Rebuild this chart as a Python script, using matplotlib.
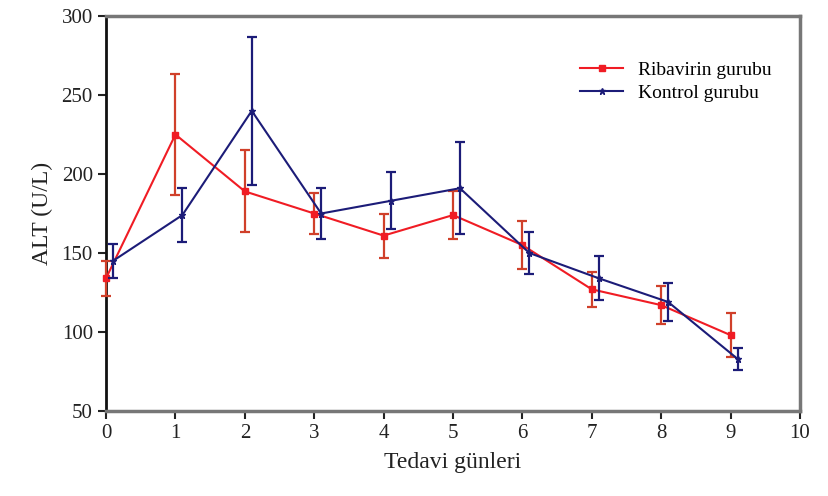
import matplotlib
matplotlib.use("Agg")
import matplotlib.pyplot as plt
from matplotlib.lines import Line2D

days = [0, 1, 2, 3, 4, 5, 6, 7, 8, 9]
ribavirin_mean = [134, 225, 189, 175, 161, 174, 155, 127, 117, 98]
ribavirin_err = [11, 38, 26, 13, 14, 15, 15, 11, 12, 14]
kontrol_mean = [145, 174, 240, 175, 183, 191, 150, 134, 119, 83]
kontrol_err = [11, 17, 47, 16, 18, 29, 13, 14, 12, 7]
kontrol_offset = 0.1

plt.rcParams['font.family'] = ['Liberation Serif', 'DejaVu Serif']

fig = plt.figure(figsize=(8.29, 4.96), dpi=100)
ax = fig.add_axes([0.1279, 0.1714, 0.8371, 0.7963])

red = '#f01c24'
red_err = '#d0402a'
blue = '#1c1c78'

c1 = ax.errorbar(days, ribavirin_mean, yerr=ribavirin_err, color=red, ecolor=red_err,
                 marker='s', markersize=5, linewidth=1.5, elinewidth=1.6, capsize=3.5,
                 capthick=1.6, zorder=3)
kx = [d + kontrol_offset for d in days]
c2 = ax.errorbar(kx, kontrol_mean, yerr=kontrol_err, color=blue, ecolor=blue,
                 marker='*', markersize=5, linewidth=1.5, elinewidth=1.6, capsize=3.5,
                 capthick=1.6, zorder=4)
for c in (c1, c2):
    for art in c.get_children():
        art.set_clip_on(False)
    c.lines[0].set_clip_on(False)

ax.set_xlim(0, 10)
ax.set_ylim(50, 300)
ax.set_xticks(range(0, 11))
ax.set_yticks(range(50, 301, 50))
ax.tick_params(direction='out', length=6, width=1.5, labelsize=15, colors='#222222')

ax.spines['left'].set_color('#111111')
ax.spines['left'].set_linewidth(2)
for side in ['top', 'right', 'bottom']:
    ax.spines[side].set_color('#777777')
    ax.spines[side].set_linewidth(2.5)

ax.set_xlabel('Tedavi günleri', fontsize=17, color='#222222', labelpad=6)
ax.set_ylabel('ALT (U/L)', fontsize=17, color='#222222', labelpad=6)

handles = [Line2D([], [], color=red, marker='s', markersize=5, linewidth=1.5),
           Line2D([], [], color=blue, marker='*', markersize=5, linewidth=1.5)]
ax.legend(handles, ['Ribavirin gurubu', 'Kontrol gurubu'], loc='upper right',
          bbox_to_anchor=(0.985, 0.93), frameon=False, fontsize=14,
          handlelength=2.2, labelspacing=0.3)

fig.savefig('out.png', dpi=100)
